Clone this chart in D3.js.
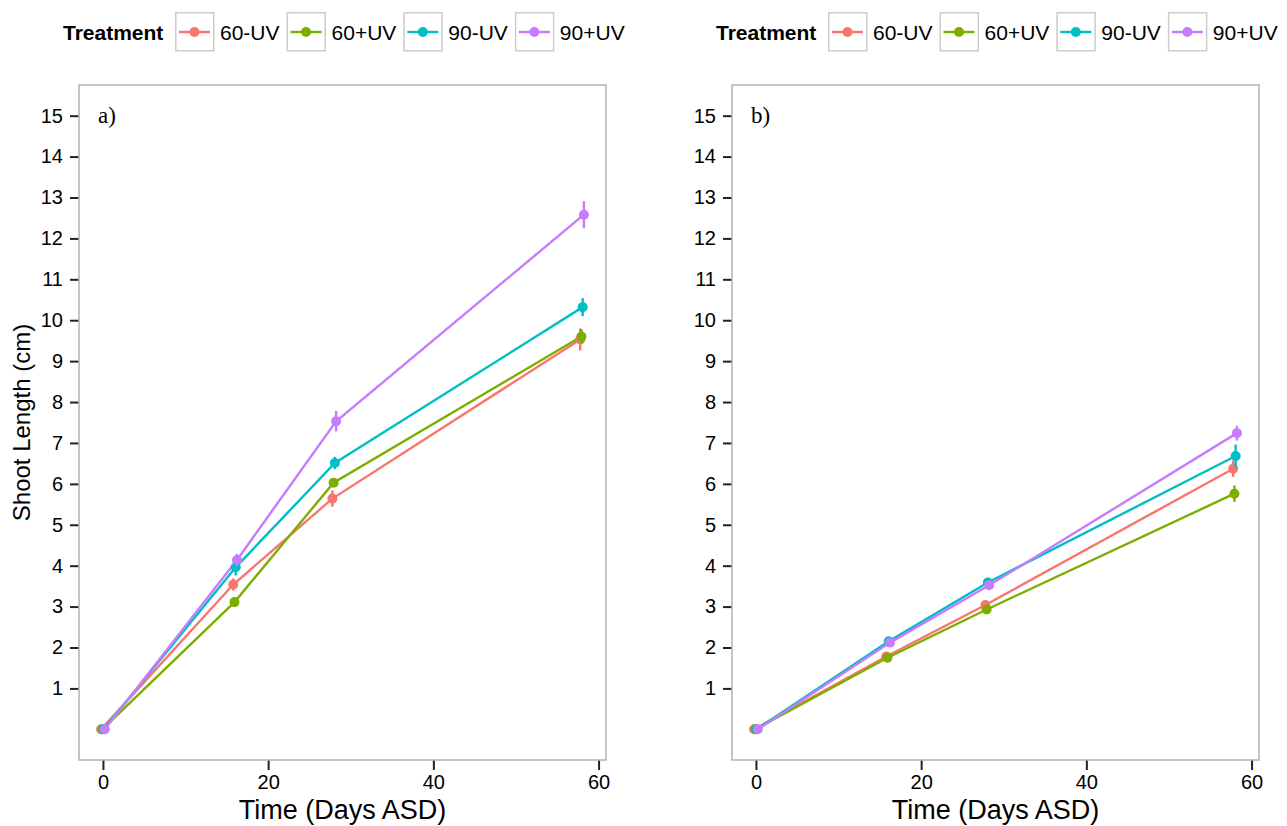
<!DOCTYPE html>
<html>
<head>
<meta charset="utf-8">
<script src="https://cdn.jsdelivr.net/npm/d3@7"></script>
<style>
  html, body { margin: 0; padding: 0; background: #ffffff; }
  svg { display: block; }
</style>
</head>
<body>
<svg id="chart" width="1287" height="826"></svg>
<script>
// ---------------- DATA ----------------
const days = [0, 16, 28, 58];
const treatments = ["60-UV", "60+UV", "90-UV", "90+UV"];
const colors = ["#F8766D", "#7CAE00", "#00BFC4", "#C77CFF"];
const panelLabels = ["a)", "b)"];
const yTicks = [1, 2, 3, 4, 5, 6, 7, 8, 9, 10, 11, 12, 13, 14, 15];
const xTicks = [0, 20, 40, 60];
const xTitle = "Time (Days ASD)";
const yTitle = "Shoot Length (cm)";
const legendTitle = "Treatment";

// Panel a) means and error half-widths
const a_60mUV = [0, 3.54, 5.64, 9.53];
const a_60pUV = [0, 3.11, 6.03, 9.60];
const a_90mUV = [0, 3.96, 6.51, 10.32];
const a_90pUV = [0, 4.14, 7.53, 12.58];
const aErr_60mUV = [0.03, 0.15, 0.2, 0.27];
const aErr_60pUV = [0.03, 0.1, 0.1, 0.18];
const aErr_90mUV = [0.03, 0.2, 0.15, 0.22];
const aErr_90pUV = [0.03, 0.15, 0.25, 0.33];

// Panel b) means and error half-widths
const b_60mUV = [0, 1.78, 3.04, 6.37];
const b_60pUV = [0, 1.75, 2.93, 5.76];
const b_90mUV = [0, 2.15, 3.59, 6.68];
const b_90pUV = [0, 2.12, 3.52, 7.24];
const bErr_60mUV = [0.03, 0.06, 0.08, 0.2];
const bErr_60pUV = [0.03, 0.06, 0.1, 0.2];
const bErr_90mUV = [0.03, 0.06, 0.1, 0.28];
const bErr_90pUV = [0.03, 0.06, 0.1, 0.18];

const panelMeans = [
  [a_60mUV, a_60pUV, a_90mUV, a_90pUV],
  [b_60mUV, b_60pUV, b_90mUV, b_90pUV]
];
const panelErrs = [
  [aErr_60mUV, aErr_60pUV, aErr_90mUV, aErr_90pUV],
  [bErr_60mUV, bErr_60pUV, bErr_90mUV, bErr_90pUV]
];

// ---------------- LAYOUT ----------------
const svg = d3.select("#chart");
const panels = [{ x0: 79, x1: 606 }, { x0: 732, x1: 1259 }];
const y0 = 85, y1 = 760;
const dodgeOffsets = [-0.225, -0.075, 0.075, 0.225];
const font = "'Liberation Sans', Arial, sans-serif";

panels.forEach((p, pi) => {
  const x = d3.scaleLinear().domain([-2.9, 60.9]).range([p.x0, p.x1]);
  const y = d3.scaleLinear().domain([-0.75, 15.75]).range([y1, y0]);
  const g = svg.append("g");

  g.append("rect")
    .attr("x", p.x0).attr("y", y0)
    .attr("width", p.x1 - p.x0).attr("height", y1 - y0)
    .attr("fill", "#ffffff");

  // y axis
  const yAxis = d3.axisLeft(y).tickValues(yTicks).tickSize(9).tickPadding(7)
    .tickFormat(d3.format("d"));
  const ya = g.append("g").attr("transform", `translate(${p.x0},0)`).call(yAxis);
  ya.select(".domain").remove();
  ya.selectAll(".tick line").attr("stroke", "#222").attr("stroke-width", 2);
  ya.selectAll(".tick text").attr("fill", "#000").style("font-family", font).style("font-size", "20px");

  // x axis
  const xAxis = d3.axisBottom(x).tickValues(xTicks).tickSize(10).tickPadding(5)
    .tickFormat(d3.format("d"));
  const xa = g.append("g").attr("transform", `translate(0,${y1})`).call(xAxis);
  xa.select(".domain").remove();
  xa.selectAll(".tick line").attr("stroke", "#222").attr("stroke-width", 2);
  xa.selectAll(".tick text").attr("fill", "#000").style("font-family", font).style("font-size", "20px");

  // x title
  g.append("text")
    .attr("x", (p.x0 + p.x1) / 2).attr("y", 819)
    .attr("text-anchor", "middle")
    .style("font-family", font).style("font-size", "27px")
    .text(xTitle);

  const series = treatments.map((t, i) => ({
    name: t, color: colors[i], off: dodgeOffsets[i],
    pts: days.map((d, j) => ({ d: d, v: panelMeans[pi][i][j], e: panelErrs[pi][i][j] }))
  }));

  series.forEach(s => {
    g.append("path")
      .datum(s.pts)
      .attr("fill", "none")
      .attr("stroke", s.color)
      .attr("stroke-width", 2.4)
      .attr("d", d3.line().x(d => x(d.d + s.off)).y(d => y(d.v)));
  });
  series.forEach(s => {
    g.selectAll(null).data(s.pts).enter().append("line")
      .attr("x1", d => x(d.d + s.off)).attr("x2", d => x(d.d + s.off))
      .attr("y1", d => y(d.v - d.e)).attr("y2", d => y(d.v + d.e))
      .attr("stroke", s.color).attr("stroke-width", 2.4);
    g.selectAll(null).data(s.pts).enter().append("circle")
      .attr("cx", d => x(d.d + s.off)).attr("cy", d => y(d.v))
      .attr("r", 5).attr("fill", s.color);
  });

  g.append("rect")
    .attr("x", p.x0).attr("y", y0)
    .attr("width", p.x1 - p.x0).attr("height", y1 - y0)
    .attr("fill", "none").attr("stroke", "#b3b3b3").attr("stroke-width", 1.5);

  g.append("text")
    .attr("x", p.x0 + 19).attr("y", 123)
    .style("font-family", "'Liberation Serif', 'Times New Roman', serif")
    .style("font-size", "23px")
    .text(panelLabels[pi]);

  // legend
  const lg = svg.append("g").attr("transform", `translate(${p.x0 - 16},0)`);
  lg.append("text").attr("x", 0).attr("y", 40)
    .style("font-family", font).style("font-size", "21px").style("font-weight", "bold")
    .text(legendTitle);
  let cx = 112;
  treatments.forEach((t, i) => {
    const k = lg.append("g").attr("transform", `translate(${cx},12)`);
    k.append("rect").attr("x", 0.75).attr("y", 0.75).attr("width", 38).attr("height", 38)
      .attr("fill", "#ffffff").attr("stroke", "#cccccc").attr("stroke-width", 1.5);
    k.append("line").attr("x1", 4).attr("x2", 35).attr("y1", 20).attr("y2", 20)
      .attr("stroke", colors[i]).attr("stroke-width", 2.4);
    k.append("circle").attr("cx", 19.5).attr("cy", 20).attr("r", 5).attr("fill", colors[i]);
    const tx = k.append("text").attr("x", 45).attr("y", 28)
      .style("font-family", font).style("font-size", "21px").text(t);
    const w = tx.node().getComputedTextLength();
    cx += 39 + 6 + w + 7;
  });
});

svg.append("text")
  .attr("transform", `translate(30,${(y0 + y1) / 2}) rotate(-90)`)
  .attr("text-anchor", "middle")
  .style("font-family", font).style("font-size", "24px")
  .text(yTitle);
</script>
</body>
</html>
